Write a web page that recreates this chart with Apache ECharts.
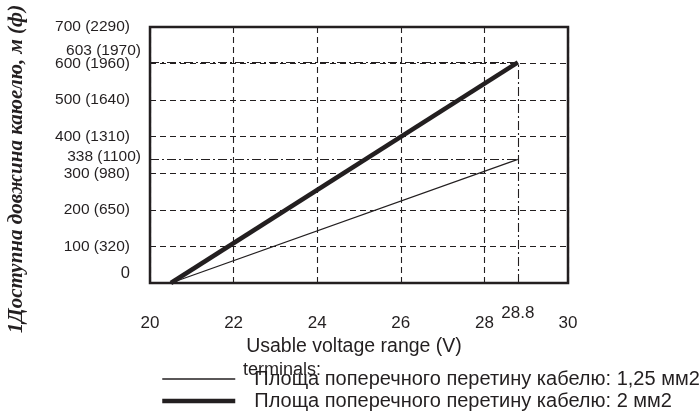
<!DOCTYPE html>
<html>
<head>
<meta charset="utf-8">
<script src="https://cdn.jsdelivr.net/npm/echarts@6/dist/echarts.min.js"></script>
<style>html,body{margin:0;padding:0;background:#fff}#c{width:700px;height:412px}</style>
</head>
<body>
<div id="c"></div>
<script>
const yTickLabels = {0:'0',100:'100 (320)',200:'200 (650)',300:'300 (980)',400:'400 (1310)',500:'500 (1640)',600:'600 (1960)',700:'700 (2290)'};
const seriesNames = ['Площа поперечного перетину кабелю: 1,25 мм2','Площа поперечного перетину кабелю: 2 мм2'];
const thinData = [[20.5, 0], [28.8, 338]];
const thickData = [[20.5, 0], [28.8, 603]];
const refVoltage = 28.8;
const refThin = 338, refThinLabel = '338 (1100)';
const refThick = 603, refThickLabel = '603 (1970)';

const ink = '#231f20';
const dashDot = [9, 3, 2, 3];
const thinW = 1.3, thickW = 4.5;
const chart = echarts.init(document.getElementById('c'));
chart.setOption({
  animation: false,
  title: {text: 'terminals:', left: 238, top: 356, textStyle: {fontFamily: 'Liberation Sans', fontSize: 18, fontWeight: 'normal', color: ink}},
  legend: {
    orient: 'vertical', left: 160, top: 369, padding: 0, itemWidth: 73, itemHeight: 14, itemGap: 2,
    data: [
      {name: seriesNames[0], lineStyle: {width: thinW, color: ink}},
      {name: seriesNames[1], lineStyle: {width: thickW, color: ink}}
    ],
    itemStyle: {opacity: 0},
    textStyle: {fontFamily: 'Liberation Sans', fontSize: 20, lineHeight: 20, color: ink, padding: [0,0,0,14]}
  },
  grid: {left: 150, right: 132, top: 27, bottom: 129, outerBoundsMode: 'none', containLabel: false, show: true, borderColor: ink, borderWidth: 2.5, backgroundColor: 'transparent'},
  xAxis: {
    type: 'value', min: 20, max: 30, interval: 2,
    name: 'Usable voltage range (V)', nameLocation: 'middle', nameGap: 48,
    nameTextStyle: {fontFamily: 'Liberation Sans', fontSize: 19.5, color: ink, padding: [0,10,0,0]},
    axisLine: {show: false}, axisTick: {show: false},
    axisLabel: {margin: 32, fontFamily: 'Liberation Sans', fontSize: 17, color: ink},
    splitLine: {show: true, lineStyle: {type: [6,4], color: ink, width: 1.1}}
  },
  yAxis: {
    type: 'value', min: 0, max: 700, interval: 100,
    name: '1Доступна довжина каюелю, м (ф)', nameLocation: 'middle', nameGap: 123, nameRotate: 90,
    nameTextStyle: {fontFamily: 'Liberation Serif', fontSize: 21, fontStyle: 'italic', fontWeight: 'bold', color: ink, padding: [0, 28, 0, 0]},
    axisLine: {show: false}, axisTick: {show: false},
    axisLabel: {margin: 20, fontFamily: 'Liberation Sans', fontSize: 15.5, color: ink,
      formatter: v => v === 0 ? '{z|0}' : yTickLabels[v],
      rich: {z: {fontFamily: 'Liberation Sans', fontSize: 16.5, color: ink, padding: [0, 0, 20, 0]}}},
    splitLine: {show: true, lineStyle: {type: [6,4], color: ink, width: 1.1}}
  },
  series: [
    {
      name: seriesNames[0], type: 'line', data: thinData, symbol: 'none',
      lineStyle: {color: ink, width: thinW}, itemStyle: {color: ink}, z: 3,
      markLine: {
        silent: true, symbol: 'none', animation: false,
        lineStyle: {color: ink, type: dashDot, width: 1.1},
        label: {show: true, position: 'start', fontFamily: 'Liberation Sans', fontSize: 15.5, color: ink},
        data: [
          [{coord: [20, refThin], label: {formatter: '{a|' + refThinLabel + '}', distance: 9, rich: {a: {fontFamily: 'Liberation Sans', fontSize: 15.5, color: ink, padding: [0,0,6,0]}}}}, {coord: [refVoltage, refThin]}],
          [{coord: [20, refThick], label: {formatter: '{a|' + refThickLabel + '}', distance: 9, rich: {a: {fontFamily: 'Liberation Sans', fontSize: 15.5, color: ink, padding: [0,0,24,0]}}}}, {coord: [refVoltage, refThick]}],
          [{coord: [refVoltage, 0], label: {formatter: String(refVoltage), distance: 22, fontSize: 17}}, {coord: [refVoltage, refThick]}]
        ]
      }
    },
    {
      name: seriesNames[1], type: 'line', data: thickData, symbol: 'none',
      lineStyle: {color: ink, width: thickW}, itemStyle: {color: ink}, z: 4
    }
  ]
});
</script>
</body>
</html>
